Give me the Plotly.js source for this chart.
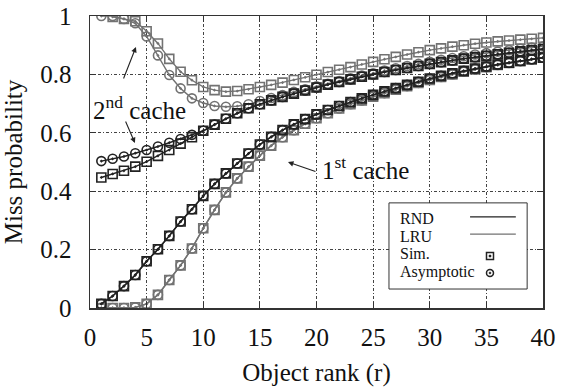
<!DOCTYPE html>
<html>
<head>
<meta charset="utf-8">
<script src="https://cdn.plot.ly/plotly-3.0.1.min.js"></script>
<style>html,body{margin:0;padding:0;background:#fff;}#chart{width:561px;height:388px;}</style>
</head>
<body>
<div id="chart"></div>
<script>
const ranks = [1,2,3,4,5,6,7,8,9,10,11,12,13,14,15,16,17,18,19,20,21,22,23,24,25,26,27,28,29,30,31,32,33,34,35,36,37,38,39,40];
const xTicks = [0,5,10,15,20,25,30,35,40];
const yTicks = [0,0.2,0.4,0.6,0.8,1];
const yTickText = ['0','0.2','0.4','0.6','0.8','1'];

// RND, 1st cache
const rndFirstSim  = [0.014,0.041,0.075,0.113,0.160,0.201,0.247,0.296,0.338,0.384,0.425,0.461,0.495,0.529,0.560,0.586,0.609,0.629,0.647,0.663,0.678,0.692,0.705,0.718,0.730,0.742,0.753,0.764,0.775,0.786,0.795,0.804,0.812,0.820,0.827,0.834,0.840,0.846,0.852,0.857];
const rndFirstAsym = [0.014,0.041,0.075,0.113,0.160,0.201,0.247,0.296,0.338,0.384,0.425,0.461,0.495,0.529,0.560,0.586,0.609,0.629,0.647,0.663,0.678,0.692,0.705,0.718,0.730,0.742,0.753,0.764,0.775,0.786,0.795,0.804,0.812,0.820,0.827,0.834,0.840,0.846,0.852,0.857];
// LRU, 1st cache
const lruFirstSim  = [0.000,0.000,0.000,0.002,0.014,0.045,0.096,0.146,0.204,0.273,0.336,0.396,0.444,0.484,0.522,0.556,0.585,0.609,0.631,0.650,0.667,0.683,0.698,0.711,0.724,0.736,0.748,0.760,0.771,0.781,0.791,0.800,0.809,0.817,0.825,0.832,0.839,0.846,0.852,0.858];
const lruFirstAsym = [0.000,0.000,0.000,0.002,0.014,0.045,0.096,0.146,0.204,0.273,0.336,0.396,0.444,0.484,0.522,0.556,0.585,0.609,0.631,0.650,0.667,0.683,0.698,0.711,0.724,0.736,0.748,0.760,0.771,0.781,0.791,0.800,0.809,0.817,0.825,0.832,0.839,0.846,0.852,0.858];
// RND, 2nd cache
const rndSecondSim  = [0.447,0.459,0.470,0.484,0.501,0.521,0.541,0.563,0.585,0.607,0.628,0.648,0.667,0.684,0.698,0.711,0.723,0.734,0.745,0.755,0.765,0.774,0.783,0.792,0.800,0.808,0.815,0.822,0.829,0.836,0.842,0.848,0.854,0.859,0.864,0.869,0.874,0.879,0.883,0.887];
const rndSecondAsym = [0.503,0.511,0.519,0.530,0.541,0.553,0.566,0.579,0.593,0.607,0.628,0.648,0.667,0.684,0.698,0.711,0.723,0.734,0.745,0.755,0.765,0.774,0.783,0.792,0.800,0.808,0.815,0.822,0.829,0.836,0.842,0.848,0.854,0.859,0.864,0.869,0.874,0.879,0.883,0.887];
// LRU, 2nd cache
const lruSecondSim  = [null,0.997,0.990,0.982,0.948,0.906,0.853,0.809,0.780,0.757,0.746,0.741,0.743,0.749,0.757,0.764,0.772,0.781,0.790,0.799,0.808,0.816,0.825,0.834,0.843,0.852,0.860,0.868,0.876,0.883,0.889,0.895,0.900,0.905,0.909,0.913,0.916,0.919,0.922,0.925];
const lruSecondAsym = [1.000,1.000,0.990,0.975,0.930,0.865,0.798,0.752,0.718,0.702,0.692,0.689,0.691,0.698,0.709,0.719,0.729,0.740,0.749,0.759,0.768,0.777,0.787,0.796,0.804,0.813,0.821,0.829,0.836,0.843,0.850,0.856,0.862,0.868,0.873,0.878,0.883,0.888,0.892,0.896];

const BLACK = '#222222';
const GRAY = '#727272';
const FONT = '"Liberation Serif", "Times New Roman", serif';

function tr(y, color, symbol) {
  return {
    x: ranks, y: y, type: 'scatter', mode: 'lines+markers',
    connectgaps: false, showlegend: false, hoverinfo: 'skip',
    line: {color: color, width: 1.4},
    marker: {symbol: symbol, size: 9, color: color, line: {color: color, width: 1.6}}
  };
}

const data = [
  tr(lruFirstSim, GRAY, 'square-open-dot'),
  tr(lruFirstAsym, GRAY, 'circle-open-dot'),
  tr(lruSecondSim, GRAY, 'square-open-dot'),
  tr(lruSecondAsym, GRAY, 'circle-open-dot'),
  tr(rndFirstSim, BLACK, 'square-open-dot'),
  tr(rndFirstAsym, BLACK, 'circle-open-dot'),
  tr(rndSecondSim, BLACK, 'square-open-dot'),
  tr(rndSecondAsym, BLACK, 'circle-open-dot')
];

const axisCommon = {
  ticks: 'inside', ticklen: 6, tickcolor: '#333', tickwidth: 1,
  showline: true, linecolor: '#333', linewidth: 1.5, mirror: 'ticks',
  showgrid: true, gridcolor: '#444', gridwidth: 1, griddash: '3px,2px,1px,2px',
  zeroline: false, fixedrange: true,
  tickfont: {family: FONT, size: 25, color: '#111'}
};

const legendX0 = 0.660, legendX1 = 0.965, legendY0 = 0.065, legendY1 = 0.360;

const layout = {
  width: 561, height: 388,
  margin: {l: 90, r: 18, t: 16, b: 80},
  paper_bgcolor: '#fff', plot_bgcolor: '#fff',
  font: {family: FONT, color: '#111'},
  xaxis: Object.assign({}, axisCommon, {
    range: [0, 40], tickmode: 'array', tickvals: xTicks,
    ticklabelstandoff: 6,
    title: {text: 'Object rank (r)', font: {family: FONT, size: 25, color: '#111'}, standoff: 14}
  }),
  yaxis: Object.assign({}, axisCommon, {
    range: [0, 1], tickmode: 'array', tickvals: yTicks, ticktext: yTickText,
    ticklabelstandoff: 12,
    title: {text: 'Miss probability', font: {family: FONT, size: 25, color: '#111'}, standoff: 10}
  }),
  shapes: [
    {type: 'rect', xref: 'paper', yref: 'paper', x0: legendX0, x1: legendX1, y0: legendY0, y1: legendY1,
     line: {color: '#333', width: 1}, fillcolor: '#fff', layer: 'above'},
    {type: 'line', xref: 'paper', yref: 'paper', x0: 0.839, x1: 0.940, y0: 0.312, y1: 0.312,
     line: {color: BLACK, width: 1.4}, layer: 'above'},
    {type: 'line', xref: 'paper', yref: 'paper', x0: 0.839, x1: 0.940, y0: 0.253, y1: 0.253,
     line: {color: GRAY, width: 1.4}, layer: 'above'},
    {type: 'rect', xref: 'paper', yref: 'paper', xsizemode: 'pixel', ysizemode: 'pixel',
     xanchor: 0.883, yanchor: 0.178, x0: -3.5, x1: 3.5, y0: -3.5, y1: 3.5,
     line: {color: BLACK, width: 1.5}, layer: 'above'},
    {type: 'rect', xref: 'paper', yref: 'paper', xsizemode: 'pixel', ysizemode: 'pixel',
     xanchor: 0.883, yanchor: 0.178, x0: -1, x1: 1, y0: -1, y1: 1,
     line: {color: BLACK, width: 0.5}, fillcolor: BLACK, layer: 'above'},
    {type: 'circle', xref: 'paper', yref: 'paper', xsizemode: 'pixel', ysizemode: 'pixel',
     xanchor: 0.883, yanchor: 0.120, x0: -3.5, x1: 3.5, y0: -3.5, y1: 3.5,
     line: {color: BLACK, width: 1.5}, layer: 'above'},
    {type: 'circle', xref: 'paper', yref: 'paper', xsizemode: 'pixel', ysizemode: 'pixel',
     xanchor: 0.883, yanchor: 0.120, x0: -1, x1: 1, y0: -1, y1: 1,
     line: {color: BLACK, width: 0.5}, fillcolor: BLACK, layer: 'above'}
  ],
  annotations: [
    {xref: 'paper', yref: 'paper', x: 0.68, y: 0.305, xanchor: 'left', yanchor: 'middle', showarrow: false,
     text: 'RND', font: {family: FONT, size: 16, color: '#111'}},
    {xref: 'paper', yref: 'paper', x: 0.68, y: 0.244, xanchor: 'left', yanchor: 'middle', showarrow: false,
     text: 'LRU', font: {family: FONT, size: 16, color: '#111'}},
    {xref: 'paper', yref: 'paper', x: 0.68, y: 0.188, xanchor: 'left', yanchor: 'middle', showarrow: false,
     text: 'Sim.', font: {family: FONT, size: 16, color: '#111'}},
    {xref: 'paper', yref: 'paper', x: 0.68, y: 0.124, xanchor: 'left', yanchor: 'middle', showarrow: false,
     text: 'Asymptotic', font: {family: FONT, size: 16, color: '#111'}},
    {xref: 'x', yref: 'y', x: 0.1, y: 0.685, xanchor: 'left', yanchor: 'middle', showarrow: false,
     text: '2<sup>nd</sup> cache', font: {family: FONT, size: 25, color: '#111'}},
    {xref: 'x', yref: 'y', x: 20.3, y: 0.479, xanchor: 'left', yanchor: 'middle', showarrow: false,
     text: '1<sup>st</sup> cache', font: {family: FONT, size: 25, color: '#111'}},
    {xref: 'x', yref: 'y', x: 4.06, y: 0.894, ax: -13, ay: 33, text: '', showarrow: true,
     arrowhead: 2, arrowsize: 1, arrowwidth: 1.1, arrowcolor: '#222'},
    {xref: 'x', yref: 'y', x: 3.97, y: 0.565, ax: -10, ay: -23, text: '', showarrow: true,
     arrowhead: 2, arrowsize: 1, arrowwidth: 1.1, arrowcolor: '#222'},
    {xref: 'x', yref: 'y', x: 17.48, y: 0.50, ax: 29, ay: 10, text: '', showarrow: true,
     arrowhead: 2, arrowsize: 1, arrowwidth: 1.1, arrowcolor: '#222'}
  ]
};

Plotly.newPlot('chart', data, layout, {displayModeBar: false, staticPlot: true});
</script>
</body>
</html>
